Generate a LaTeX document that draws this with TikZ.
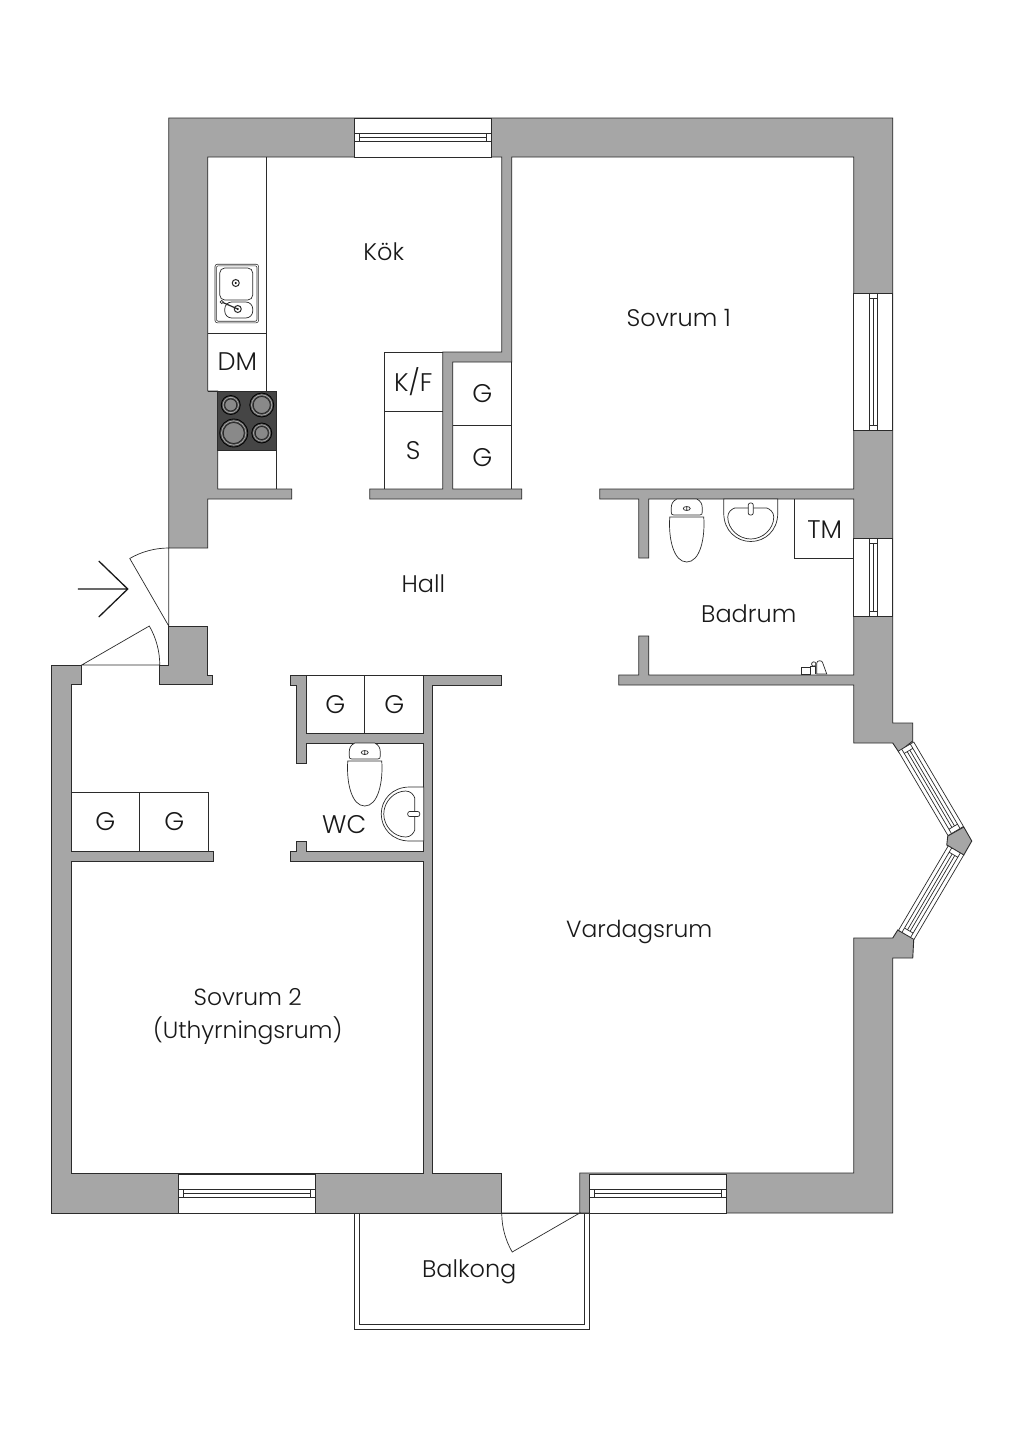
\documentclass[tikz,border=0pt]{standalone}
\usepackage{fontspec}
\setmainfont{Poppins}[UprightFont=* Light]
\usetikzlibrary{positioning}
\definecolor{wallgray}{HTML}{A6A6A6}
\definecolor{ink}{HTML}{2B2B2B}
\definecolor{hob}{HTML}{454545}
\tikzset{
    x=1pt,y=-1pt,
    wall/.style ={draw=ink, fill=wallgray, line width=0.9pt, line join=miter},
    fitting/.style ={draw=ink, line width=0.7pt},
    room/.style ={font=\fontsize{24}{33}\selectfont, text=black!90, align=center, inner sep=0pt},
    roomsmall/.style ={room, font=\fontsize{23.4}{33}\selectfont},
    tag/.style ={room, font=\fontsize{25.5}{30}\selectfont},
    ring/.style ={draw=black!85, fill=wallgray!70!hob, line width=0.8pt},
    winh/.pic ={
        \draw[fitting, fill=white] (0,0) rectangle (137,39);
        \draw[fitting] (0,15) rectangle (137,23.5);
        \draw[fitting] (5,15) -- (5,23.5) (132,15) -- (132,23.5) (5,19.3) -- (132,19.3);
    },
    winshort/.pic ={
        \draw[fitting, fill=white] (0,0) rectangle (78,39);
        \draw[fitting] (0,15) rectangle (78,23.5);
        \draw[fitting] (5,15) -- (5,23.5) (73,15) -- (73,23.5) (5,19.3) -- (73,19.3);
    },
    winbay/.pic ={
        \draw[fitting, fill=white] (0,0) rectangle (98,18);
        \draw[fitting] (0,4) -- (98,4) (0,14) -- (98,14) (5,4) -- (5,14) (93,4) -- (93,14);
        \draw[fitting] (5,7.5) -- (93,7.5) (5,10.5) -- (93,10.5);
    },
    toilet/.pic ={
        \draw[fitting, fill=white] (-17,18) .. controls (-18.5,40) and (-13,63) .. (0,63) .. controls (13,63) and (18.5,40) .. (17,18) -- cycle;
        \draw[fitting, fill=white] (-10,0) .. controls (-14,2) and (-15.5,5) .. (-15.5,9) -- (-15.5,13) .. controls (-15.5,15) and (-15,16) .. (-13,16) -- (13,16) .. controls (15,16) and (15.5,15) .. (15.5,13) -- (15.5,9) .. controls (15.5,5) and (14,2) .. (10,0) -- cycle;
        \draw[fitting] (0,9.5) ellipse (3.5 and 2) (0,7.5) -- (0,11.5);
    },
    basin/.pic ={
        \draw[fitting, fill=white] (-27,0) -- (-27,14) .. controls (-27,32) and (-14,42.5) .. (0,42.5) .. controls (14,42.5) and (27,32) .. (27,14) -- (27,0) -- cycle;
        \draw[fitting] (-16,9) .. controls (-19,10) and (-23,13) .. (-23,18) .. controls (-23,30) and (-12,40) .. (0,40) .. controls (12,40) and (23,30) .. (23,18) .. controls (23,13) and (19,10) .. (16,9) -- cycle;
        \draw[fitting, fill=white, rounded corners=2pt] (-2.5,4) rectangle (2.5,16);
    }
}
\begin{document}
\begin{tikzpicture}
    \useasboundingbox (0.25,0) rectangle (1024.25,1448);
    \fill[white] (0.25,0) rectangle (1024.25,1448);

    % balcony
    \draw[fitting, line width=0.9pt] (355,1213) -- (355,1329.5) -- (590,1329.5) -- (590,1213);
    \draw[fitting, line width=0.9pt] (360,1213) -- (360,1324.5) -- (585,1324.5) -- (585,1213);
    \draw[fitting] (355,1213) -- (590,1213);

    % walls
    \draw[wall] (169,548) -- (169,118) -- (893,118) -- (893,723) -- (913,723) -- (913,741) -- (899,752) -- (893,743) -- (854,743) -- (854,685) -- (619,685) -- (619,675) -- (639,675) -- (639,636) -- (649,636) -- (649,675) -- (854,675) -- (854,499) -- (649,499) -- (649,558) -- (639,558) -- (639,499) -- (600,499) -- (600,489) -- (854,489) -- (854,157) -- (512,157) -- (512,362) -- (453,362) -- (453,489) -- (522,489) -- (522,499) -- (370,499) -- (370,489) -- (443,489) -- (443,352) -- (502,352) -- (502,157) -- (208,157) -- (208,391) -- (218,391) -- (218,489) -- (292,489) -- (292,499) -- (208,499) -- (208,548) -- cycle;
    \draw[wall] (898,930) -- (914,939) -- (913,958) -- (893,958) -- (893,1213) -- (580,1213) -- (580,1173) -- (854,1173) -- (854,938) -- (893,938) -- cycle;
    \draw[wall] (52,665) -- (82,665) -- (82,684) -- (72,684) -- (72,851) -- (214,851) -- (214,861) -- (72,861) -- (72,1173) -- (424,1173) -- (424,861) -- (291,861) -- (291,851) -- (297,851) -- (297,841) -- (307,841) -- (307,851) -- (424,851) -- (424,743) -- (307,743) -- (307,763) -- (297,763) -- (297,685) -- (291,685) -- (291,675) -- (307,675) -- (307,733) -- (424,733) -- (424,675) -- (502,675) -- (502,685) -- (433,685) -- (433,1173) -- (502,1173) -- (502,1213) -- (52,1213) -- cycle;
    \draw[wall] (169,626) -- (208,626) -- (208,675) -- (213,675) -- (213,684) -- (160,684) -- (160,665) -- (169,665) -- cycle;
    \draw[wall] (964,827) -- (972,841) -- (964,855) -- (947,845) -- (948,836) -- cycle;

    % windows
    \pic at (355,118) {winh};
    \pic at (179,1174) {winh};
    \pic at (590,1174) {winh};
    \pic[rotate=-90] at (893,293) {winh};
    \pic[rotate=-90] at (893,538) {winshort};
    \pic[rotate=-59.5] at (914,742) {winbay};
    \pic[rotate=-120.5] at (964,855) {winbay};

    % doors
    \coordinate (entry) at (169,626);
    \coordinate (inner) at (82,665);
    \coordinate (terrace) at (580,1213);
    \draw[fitting] (entry) -- (169,548) arc (-90:-120:78) -- cycle;
    \draw[fitting] (inner) -- (160,665) arc (0:-30:78) -- cycle;
    \draw[fitting] (terrace) -- (502,1213) arc (180:150:78) -- cycle;
    \draw[line width=1.3pt, black!90] (78,589) -- (128,589) (99,561) -- (128,589) -- (99,617);

    % kitchen
    \draw[fitting] (267,157) -- (267,391) -- (208,391) (208,333) -- (267,333);
    \draw[fitting] (277,391) -- (277,489);
    \draw[fitting, fill=hob] (218,391) rectangle (277,450);
    \foreach \cx/\cy/\rad in {231/405/9.5, 262/405/12, 234/433/14, 262/433/10}{
        \draw[ring, fill=none, draw=black] (\cx,\cy) circle (\rad);
        \draw[ring, fill=none, draw=wallgray] (\cx,\cy) circle ({\rad-1.8});
        \draw[ring] (\cx,\cy) circle ({\rad-3.5});
    }
    \draw[fitting, rounded corners=2pt, double=white, double distance=1pt, fill=white] (216,265) rectangle (258,322);
    \draw[fitting, rounded corners=5pt] (220,268) rectangle (253,300);
    \draw[fitting, rounded corners=7pt] (225,302) rectangle (253,318);
    \draw[fitting, line width=1pt] (236,283) circle (3.5) (238,309) circle (3.5);
    \fill (236,283) circle (1.2) (238,309) circle (1.2);
    \draw[fitting, line width=1.2pt] (222,302) -- (238,309);
    \draw[fitting, fill=white] (222,302) circle (1.6);

    % closets
    \draw[fitting] (385,489) -- (385,352) -- (443,352) (385,411) -- (443,411);
    \draw[fitting] (453,425) -- (512,425) (512,362) -- (512,489);
    \draw[fitting] (795,499) -- (795,558) -- (854,558);
    \draw[fitting] (307,675) -- (424,675) (365,675) -- (365,733);
    \draw[fitting] (72,792) -- (209,792) -- (209,851) (140,792) -- (140,851);

    % bathroom and wc
    \pic at (687,499) {toilet};
    \pic at (365,743) {toilet};
    \pic at (751,499) {basin};
    \pic[rotate=-90] at (424,814) {basin};
    \draw[fitting, fill=white] (802,667) rectangle (811,674);
    \draw[fitting, fill=white] (811,674) -- (811,666) -- (816,666) -- (816,674);
    \draw[fitting, fill=white] (814,664) circle (2.2);
    \draw[fitting, fill=white] (817,674) -- (817,663) .. controls (817,660) and (823,660) .. (823,663) -- (827,674) -- cycle;

    % labels
    \node[room] (kok) at (384,252) {Kök};
    \node[room] (sovrum1) at (679,318) {Sovrum 1};
    \node[tag] (dm) at (237.5,362) {DM};
    \node[tag] (kf) at (413.5,382) {K/F};
    \node[tag] (s) at (413.5,451) {S};
    \node[tag] (g1) at (482.5,394) {G};
    \node[tag] (g2) at (482.5,458) {G};
    \node[tag] (tm) at (825,530) {TM};
    \node[room] (hall) at (423.5,584) {Hall};
    \node[room] (badrum) at (749,614) {Badrum};
    \node[tag] (g3) at (335.5,705) {G};
    \node[tag] (g4) at (394.5,705) {G};
    \node[tag] (g5) at (105.5,822) {G};
    \node[tag] (g6) at (174.5,822) {G};
    \node[tag] (wc) at (344.5,825) {WC};
    \node[roomsmall] (vardagsrum) at (639.5,932) {Vardagsrum};
    \node[roomsmall] (sovrum2) at (248,1017) {Sovrum 2\\(Uthyrningsrum)};
    \node[room] (balkong) at (469.5,1272) {Balkong};
\end{tikzpicture}
\end{document}
